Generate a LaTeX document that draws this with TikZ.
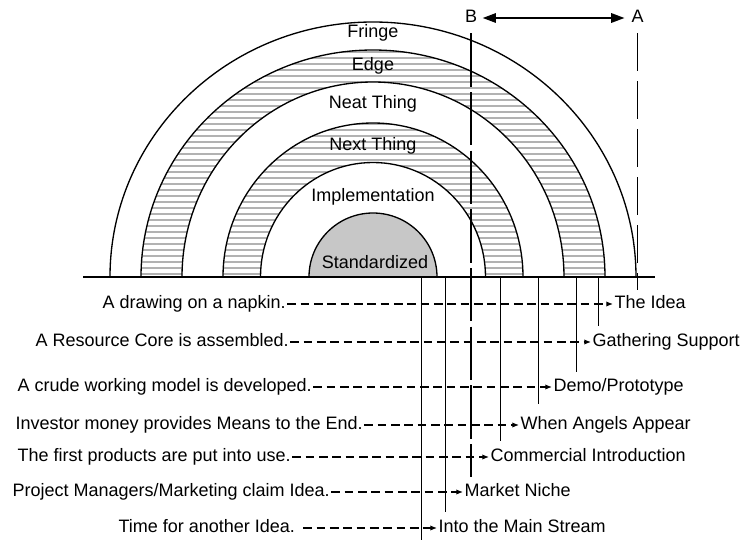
\documentclass[tikz,border=0pt]{standalone}
\usepackage{fontspec}
\setmainfont{Liberation Sans}
\usetikzlibrary{arrows.meta}

\tikzset{
	lbl/.style={inner sep=1pt, font=\fontsize{13.5}{15}\selectfont, text height=9.8pt, text depth=2.9pt},
	ring/.style={line width=1pt},
	band/.style={draw=black!30, line width=1.9pt},
	drop/.style={line width=0.9pt},
	leader/.style={line width=0.9pt, dash pattern=on 6.5pt off 3.5pt, -{Latex[length=5pt,width=4pt]}},
	span/.style={line width=1.5pt, {Triangle[length=10pt,width=7pt]}-{Triangle[length=10pt,width=7pt]}},
}

\begin{document}
\begin{tikzpicture}[x=0.75pt,y=0.75pt]
	\useasboundingbox (0,-263) rectangle (743,277);
	\fill[black!22] (309,0) arc[start angle=180,end angle=0,radius=64] -- cycle;
	\begin{scope}
		\clip (141,0) arc[start angle=180,end angle=0,x radius=232,y radius=227] -- (564,0) arc[start angle=0,end angle=180,x radius=191,y radius=195] -- cycle;
		\foreach \y in {3,9,...,231} \draw[band] (130,\y) -- (620,\y);
	\end{scope}
	\begin{scope}
		\clip (223,0) arc[start angle=180,end angle=0,x radius=150,y radius=154] -- (485.5,0) arc[start angle=0,end angle=180,x radius=112.5,y radius=114.5] -- cycle;
		\foreach \y in {3,9,...,159} \draw[band] (215,\y) -- (530,\y);
	\end{scope}
	\foreach \rx/\ry in {263/255,232/227,191/195,150/154,112.5/114.5,64/64}
		\draw[ring] (373-\rx,0) arc[start angle=180,end angle=0,x radius=\rx,y radius=\ry];
	\draw[line width=1.1pt] (83,0) -- (655,0);

	\node[lbl] (fringe) at (373,244) {Fringe};
	\node[lbl] (edge) at (373,211) {Edge};
	\node[lbl] (neat) at (373,173) {Neat Thing};
	\node[lbl] (next) at (373,131) {Next Thing};
	\node[lbl] (impl) at (373,80) {Implementation};
	\node[lbl] (std) at (375,13) {Standardized};

	\node[lbl] (b) at (471,259) {B};
	\node[lbl] (a) at (637.5,259) {A};
	\draw[span, shorten <=3pt, shorten >=4pt] (b) -- (a);
	\coordinate (bfoot) at (471,-200);
	\coordinate (afoot) at (637.5,-13);
	\draw[drop, dash pattern=on 40pt off 4pt, shorten <=4pt] (b) -- (bfoot);
	\draw[drop, dash pattern=on 28pt off 8pt, shorten <=4pt] (a) -- (afoot);
	\foreach \x/\y in {421.7/-263,445.7/-235,500.7/-164,538.3/-127,576.7/-95,598.3/-49}
		\draw[drop] (\x,0) -- (\x,\y);

	\node[lbl, anchor=west] (napkin) at (101,-27) {A drawing on a napkin.};
	\node[lbl, anchor=west] (core) at (34,-65) {A Resource Core is assembled.};
	\node[lbl, anchor=west] (crude) at (16,-110) {A crude working model is developed.};
	\node[lbl, anchor=west] (money) at (14,-148) {Investor money provides Means to the End.};
	\node[lbl, anchor=west] (use) at (16,-180) {The first products are put into use.};
	\node[lbl, anchor=west] (claim) at (11,-215) {Project Managers/Marketing claim Idea.};
	\node[lbl, anchor=west] (another) at (117,-251) {Time for another Idea.};

	\node[lbl, anchor=west] (idea) at (613,-27) {The Idea};
	\node[lbl, anchor=west] (support) at (591,-65) {Gathering Support};
	\node[lbl, anchor=west] (demo) at (552,-110) {Demo/Prototype};
	\node[lbl, anchor=west] (angels) at (519,-148) {When Angels Appear};
	\node[lbl, anchor=west] (intro) at (489,-180) {Commercial Introduction};
	\node[lbl, anchor=west] (niche) at (463,-215) {Market Niche};
	\node[lbl, anchor=west] (main) at (437,-251) {Into the Main Stream};

	\draw[leader] (napkin) -- (idea);
	\draw[leader] (core) -- (support);
	\draw[leader] (crude) -- (demo);
	\draw[leader] (money) -- (angels);
	\draw[leader] (use) -- (intro);
	\draw[leader] (claim) -- (niche);
	\draw[leader, shorten <=5pt] (another) -- (main);
\end{tikzpicture}
\end{document}
